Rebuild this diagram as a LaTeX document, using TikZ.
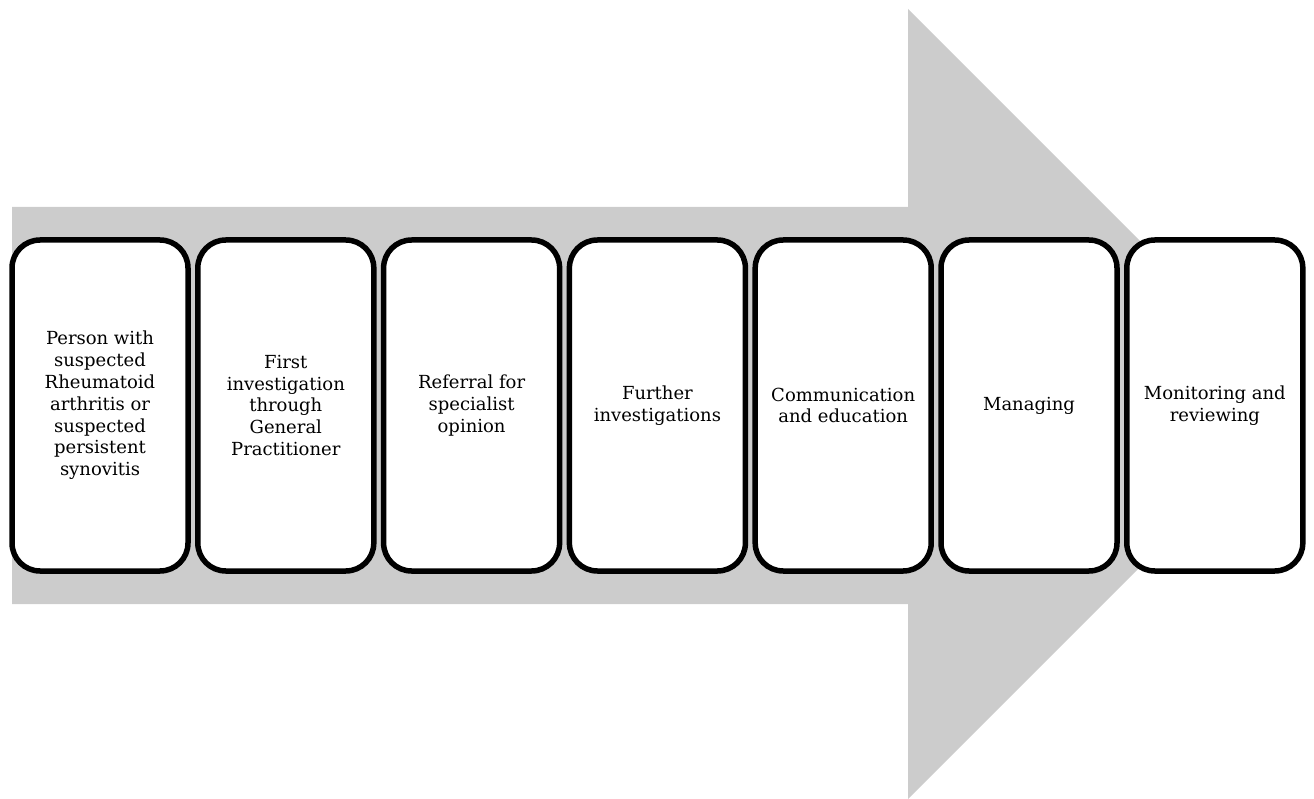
\documentclass[tikz,border=0pt]{standalone}
\usepackage{fontspec}
\setmainfont{DejaVu Serif}
\begin{document}
\begin{tikzpicture}[x=1pt,y=-1pt,
  stepbox/.style={draw=black, line width=5.5pt, fill=white, rounded corners=28pt,
    minimum width=176pt, minimum height=331pt, inner sep=0pt, anchor=center,
    align=center, font=\fontsize{18}{21.8}\selectfont}]
\useasboundingbox (0,0) rectangle (1314,799);
% big grey block arrow behind the steps
\fill[fill={rgb,255:red,204;green,204;blue,204}]
  (12,207) -- (908,207) -- (908,9) -- (1303,404) -- (908,799) -- (908,604) -- (12,604) -- cycle;
% process steps
\node[stepbox] (box1) at (100,405.5) {Person with\\suspected\\Rheumatoid\\arthritis or\\suspected\\persistent\\synovitis};
\node[stepbox] (box2) at (285.8,405.5) {First\\investigation\\through\\General\\Practitioner};
\node[stepbox] (box3) at (471.6,405.5) {Referral for\\specialist\\opinion};
\node[stepbox] (box4) at (657.4,405.5) {Further\\investigations};
\node[stepbox] (box5) at (843.2,405.5) {Communication\\and education};
\node[stepbox] (box6) at (1029,405.5) {Managing};
\node[stepbox] (box7) at (1214.8,405.5) {Monitoring and\\reviewing};
\end{tikzpicture}
\end{document}
